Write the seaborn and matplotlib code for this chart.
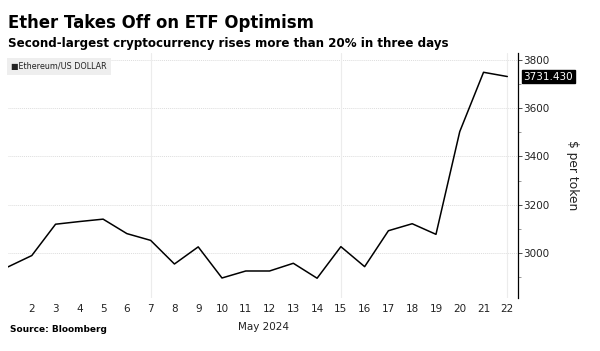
import matplotlib
matplotlib.use("Agg")
import matplotlib.pyplot as plt
import seaborn as sns
import pandas as pd
from matplotlib.ticker import FixedLocator

days = list(range(1, 23))
prices = [2942, 2989, 3119, 3130, 3140, 3080, 3052, 2954, 3025, 2896, 2925,
          2925, 2957, 2895, 3026, 2943, 3092, 3121, 3077, 3503, 3749, 3731.43]
y_ticks = [3000, 3200, 3400, 3600, 3800]
x_ticks = list(range(2, 23))
last_label = "3731.430"
series_name = "Ethereum/US DOLLAR"

df = pd.DataFrame({"day": days, "price": prices})

sns.set_style("white")
plt.rcParams['font.family'] = ['DejaVu Sans']

fig = plt.figure(figsize=(6, 3.51), dpi=100)
ax = fig.add_axes([8/600, 1-298/351, 510/600, 245/351])

sns.lineplot(data=df, x="day", y="price", ax=ax, color="black", linewidth=1.1)

ax.set_xlim(1, 22.45)
ax.set_ylim(2813, 3829)

ax.yaxis.tick_right()
ax.yaxis.set_label_position("right")
ax.yaxis.set_major_locator(FixedLocator(y_ticks))
ax.yaxis.set_minor_locator(FixedLocator([2900, 3100, 3300, 3500, 3700]))
ax.set_yticklabels([str(v) for v in y_ticks], fontsize=7.5, color="#222222")
ax.tick_params(axis="y", which="major", length=3, width=0.6, pad=1, direction="out", color="#333333")
ax.tick_params(axis="y", which="minor", length=2, width=0.6, color="#888888")

ax.set_xticks(x_ticks)
ax.set_xticklabels([str(d) for d in x_ticks], fontsize=7.5, color="#222222")
ax.tick_params(axis="x", length=0, pad=4)

for sp in ["top", "left", "bottom"]:
    ax.spines[sp].set_visible(False)
ax.spines["right"].set_color("black")
ax.spines["right"].set_linewidth(0.9)

for v in y_ticks:
    ax.axhline(v, color="#dddddd", linewidth=0.7, linestyle=(0, (1, 1)), zorder=0)
for d in [7, 15, 22]:
    ax.axvline(d, color="#ececec", linewidth=0.8, zorder=0)

ax.set_xlabel("May 2024", fontsize=7.5, color="#222222", labelpad=2)
ax.xaxis.set_label_coords((263 - 8) / 510, -0.10)
ax.set_ylabel("$ per token", fontsize=8.8, rotation=270, labelpad=21, color="#222222")

ax.annotate(last_label, xy=(1.0, prices[-1]), xycoords=("axes fraction", "data"),
            xytext=(4, 0), textcoords="offset points", fontsize=7.5, color="white",
            va="center", ha="left",
            bbox=dict(boxstyle="square,pad=0.15", fc="black", ec="black"))

ax.text(0.006, 0.965, "\u25a0" + series_name, transform=ax.transAxes, fontsize=5.8,
        va="top", ha="left", color="#222222",
        bbox=dict(boxstyle="square,pad=0.5", fc="#eeeeee", ec="none"))

fig.text(8/600, 1-23/351, "Ether Takes Off on ETF Optimism", fontsize=11.9,
         fontweight="bold", va="center", ha="left", color="black")
fig.text(8/600, 1-44/351, "Second-largest cryptocurrency rises more than 20% in three days",
         fontsize=8.6, fontweight="bold", va="center", ha="left", color="black")
fig.text(10/600, 1-330/351, "Source: Bloomberg", fontsize=6.5, fontweight="bold",
         va="center", ha="left", color="black")

fig.savefig("out.png", dpi=100, facecolor="white")
